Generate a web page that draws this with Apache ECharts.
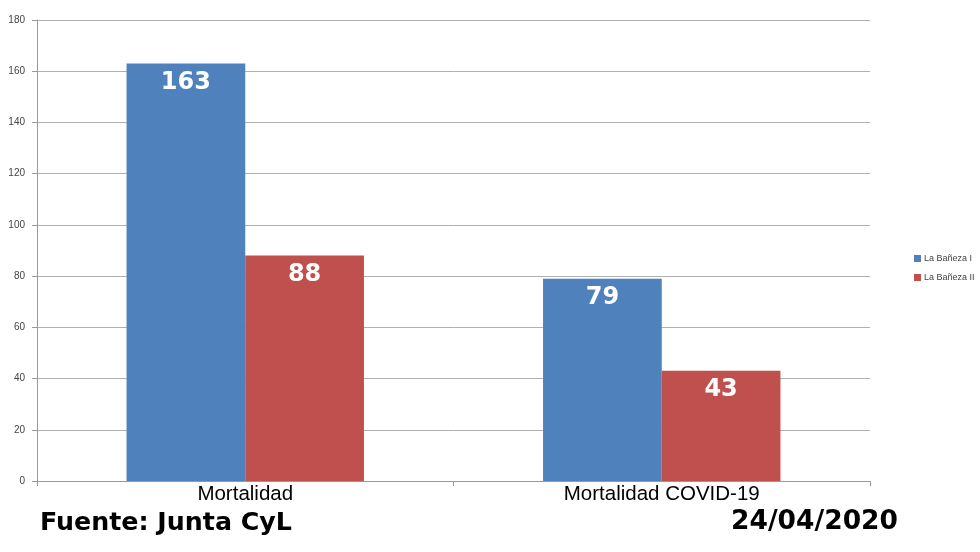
<!DOCTYPE html>
<html><head><meta charset="utf-8">
<script src="https://cdn.jsdelivr.net/npm/echarts@6/dist/echarts.min.js"></script>
<style>html,body{margin:0;padding:0;background:#fff}#c{width:980px;height:552px}</style>
</head><body><div id="c"></div>
<script>
const categories = ["Mortalidad", "Mortalidad COVID-19"];
const seriesNames = ["La Bañeza I", "La Bañeza II"];
const valuesI = [163, 79];
const valuesII = [88, 43];
const yTicks = [0, 20, 40, 60, 80, 100, 120, 140, 160, 180];
const sourceText = "Fuente: Junta CyL";
const dateText = "24/04/2020";

const chart = echarts.init(document.getElementById('c'), null, {renderer: 'canvas'});
const labelStyle = {
  show: true, position: 'insideTop', distance: 7,
  color: '#fff', fontSize: 24, fontWeight: 'bold',
  fontFamily: 'DejaVu Sans', textBorderWidth: 0
};
chart.setOption({
  animation: false,
  grid: {left: 37, right: 110, top: 20, bottom: 71, containLabel: false},
  legend: {
    orient: 'vertical', left: 909, top: 249, itemWidth: 7, itemHeight: 7, itemGap: 10,
    icon: 'rect',
    textStyle: {fontSize: 9, color: '#444', fontFamily: 'Liberation Sans', padding: [0, 0, 0, -2]},
    data: seriesNames
  },
  xAxis: {
    type: 'category', data: categories,
    axisLine: {lineStyle: {color: '#999'}},
    axisTick: {show: true, alignWithLabel: false, length: 5, lineStyle: {color: '#999'}},
    axisLabel: {color: '#000', fontSize: 20.5, fontFamily: 'Liberation Sans', margin: 3}
  },
  yAxis: {
    type: 'value', min: yTicks[0], max: yTicks[yTicks.length - 1], interval: 20,
    axisLine: {show: true, lineStyle: {color: '#999'}},
    axisTick: {show: true, length: 5, lineStyle: {color: '#999'}},
    axisLabel: {color: '#444', fontSize: 10, fontFamily: 'Liberation Sans', margin: 12},
    splitLine: {lineStyle: {color: '#b0b0b0'}}
  },
  series: [
    {name: seriesNames[0], type: 'bar', data: valuesI, itemStyle: {color: '#4f81bd'},
     barGap: '0%', barCategoryGap: '43%', label: labelStyle},
    {name: seriesNames[1], type: 'bar', data: valuesII, itemStyle: {color: '#c0504d'},
     barGap: '0%', barCategoryGap: '43%', label: labelStyle}
  ],
  graphic: [
    {type: 'text', x: 40, y: 512, scaleX: 1.054, style: {text: sourceText, fill: '#000',
      font: 'bold 24px "DejaVu Sans"'}},
    {type: 'text', x: 731, y: 509, scaleX: 1.02, style: {text: dateText, fill: '#000',
      font: 'bold 26px "DejaVu Sans"'}}
  ]
});
</script></body></html>
